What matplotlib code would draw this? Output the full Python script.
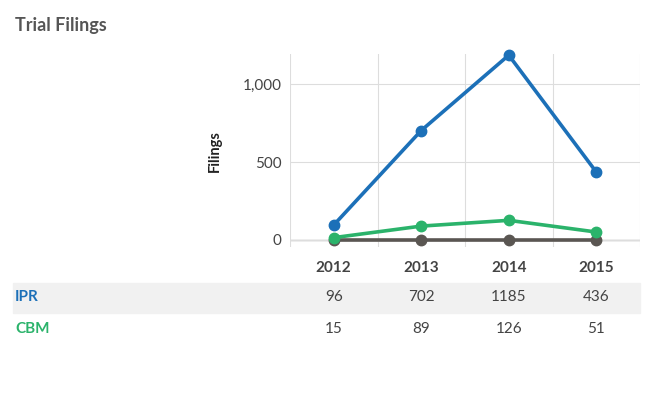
import matplotlib.pyplot as plt
import matplotlib.transforms as mtransforms
from matplotlib.patches import Rectangle

years = [2012, 2013, 2014, 2015]
ipr = [96, 702, 1185, 436]
cbm = [15, 89, 126, 51]
pgr = [0, 0, 0, 0]

blue = "#1c70b8"
green = "#2bb36b"
grey = "#5a5652"
text_col = "#444444"

plt.rcParams['font.family'] = ['Lato', 'DejaVu Sans']

fig = plt.figure(figsize=(6.67, 3.95), dpi=100)
ax = fig.add_axes([290 / 667, 1 - 247 / 395, 350 / 667, (247 - 54.4) / 395])

ax.plot(years, pgr, color=grey, lw=2.6, marker="o", ms=7.5, zorder=3, clip_on=False)
ax.plot(years, cbm, color=green, lw=2.6, marker="o", ms=7.5, zorder=4, clip_on=False)
ax.plot(years, ipr, color=blue, lw=2.6, marker="o", ms=7.5, zorder=5, clip_on=False)

ax.set_xlim(2011.5, 2015.5)
ax.set_ylim(-45, 1190)
ax.set_yticks([0, 500, 1000])
ax.set_yticklabels(["0", "500", "1,000"])
ax.set_xticks(years)
ax.set_xticklabels([str(y) for y in years], fontweight="bold")
ax.set_xticks([2011.5, 2012.5, 2013.5, 2014.5, 2015.5], minor=True)

ax.tick_params(axis="both", which="both", length=0, labelsize=11, colors=text_col)
ax.tick_params(axis="x", pad=10)
ax.tick_params(axis="y", pad=6)
ax.grid(True, which="minor", axis="x", color="#dddddd", lw=0.8)
ax.grid(True, which="major", axis="y", color="#dddddd", lw=0.8)
ax.axhline(0, color="#aaaaaa", lw=1, zorder=1)
for s in ax.spines.values():
    s.set_visible(False)

ax.set_ylabel("Filings", fontsize=10.5, fontweight="bold", color="#222222", labelpad=15)

fig.text(15 / 667, 1 - 25 / 395, "Trial Filings", fontsize=13, fontweight="bold",
         color="#555555", va="center")

# table under the chart
trans = mtransforms.blended_transform_factory(ax.transData, fig.transFigure)
fig.patches.append(Rectangle((13 / 667, 1 - 313 / 395), 627 / 667, 30 / 395,
                             transform=fig.transFigure, color="#f1f1f1", zorder=0))
rows = [("IPR", ipr, blue, 297), ("CBM", cbm, green, 329)]
for name, vals, col, ypx in rows:
    fig.text(15 / 667, 1 - ypx / 395, name, color=col, fontsize=11,
             fontweight="bold", va="center")
    for x, v in zip(years, vals):
        fig.text(x, 1 - ypx / 395, str(v), transform=trans, ha="center",
                 va="center", fontsize=11, color=text_col)

fig.savefig("out.png", dpi=100)
